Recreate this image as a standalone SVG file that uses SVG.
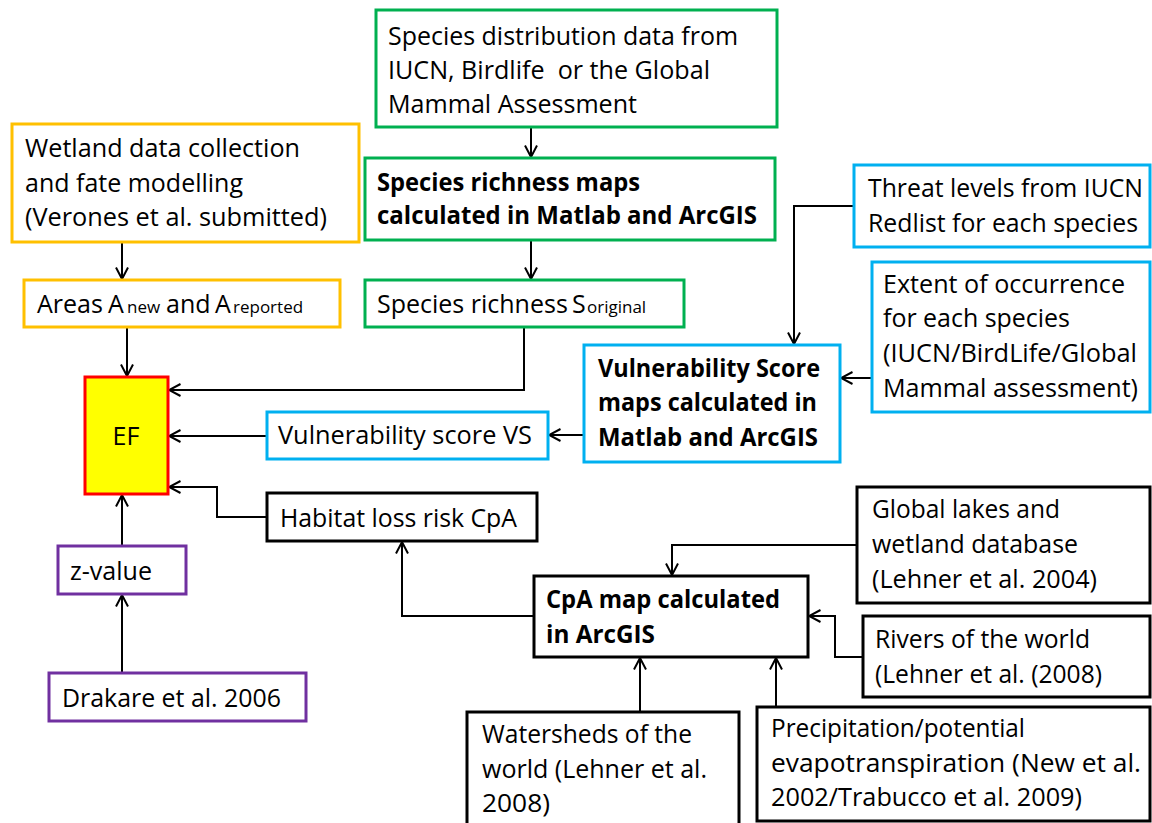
<svg xmlns="http://www.w3.org/2000/svg" width="1152" height="823" viewBox="0 0 1152 823">
<style>
.t{font-family:"Open Sans","Noto Sans","DejaVu Sans",sans-serif;font-size:25px;fill:#000}
.b{font-weight:700}
.sm{font-size:17px}
.box{fill:#fff;stroke-width:3}
.g{stroke:#00B050}.o{stroke:#FFC000}.bl{stroke:#00B0F0}.p{stroke:#7030A0}.k{stroke:#000}
.c{fill:none;stroke:#000;stroke-width:2;marker-end:url(#ah)}
</style>
<defs>
<marker id="ah" viewBox="0 0 14 14" refX="12.5" refY="7" markerWidth="14" markerHeight="14" markerUnits="userSpaceOnUse" orient="auto">
<path d="M1,1 L12.5,7 L1,13" fill="none" stroke="#000" stroke-width="2"/>
</marker>
</defs>
<rect width="1152" height="823" fill="#fff"/>

<g id="connectors">
<path class="c" d="M531,127 V157"/>
<path class="c" d="M531,240 V279"/>
<path class="c" d="M122,242 V279"/>
<path class="c" d="M127,327 V376"/>
<path class="c" d="M524,327 V390 H169"/>
<path class="c" d="M267,436 H169"/>
<path class="c" d="M584,435 H549"/>
<path class="c" d="M267,517 H217 V487 H169"/>
<path class="c" d="M122,546 V495"/>
<path class="c" d="M122,673 V595"/>
<path class="c" d="M854,206 H794 V344"/>
<path class="c" d="M872,378 H841"/>
<path class="c" d="M534,616 H402 V542"/>
<path class="c" d="M857,545 H672 V575"/>
<path class="c" d="M863,657 H835 V616 H809"/>
<path class="c" d="M640,712 V658"/>
<path class="c" d="M776,707 V658"/>
</g>

<g id="n-species-data">
<rect class="box g" x="376" y="10" width="401" height="117"/>
<text class="t" x="388" y="45" textLength="350" lengthAdjust="spacingAndGlyphs">Species distribution data from</text>
<text class="t" x="388" y="79" textLength="322" lengthAdjust="spacingAndGlyphs" xml:space="preserve">IUCN, Birdlife  or the Global</text>
<text class="t" x="388" y="113" textLength="249" lengthAdjust="spacingAndGlyphs">Mammal Assessment</text>
</g>

<g id="n-wetland">
<rect class="box o" x="12" y="124" width="347" height="118"/>
<text class="t" x="25" y="157" textLength="275" lengthAdjust="spacingAndGlyphs">Wetland data collection</text>
<text class="t" x="25" y="192" textLength="218" lengthAdjust="spacingAndGlyphs">and fate modelling</text>
<text class="t" x="25" y="226" textLength="302" lengthAdjust="spacingAndGlyphs">(Verones et al. submitted)</text>
</g>

<g id="n-richness-maps">
<rect class="box g" x="365" y="158" width="410" height="82"/>
<text class="t b" x="377" y="191" textLength="263" lengthAdjust="spacingAndGlyphs">Species richness maps</text>
<text class="t b" x="377" y="224" textLength="380" lengthAdjust="spacingAndGlyphs">calculated in Matlab and ArcGIS</text>
</g>

<g id="n-areas">
<rect class="box o" x="24" y="280" width="316" height="47"/>
<text class="t" y="313"><tspan x="37">Areas </tspan><tspan x="108">A</tspan><tspan x="127" class="sm">new</tspan> <tspan x="166">and </tspan><tspan x="215">A</tspan><tspan x="233" class="sm">reported</tspan></text>
</g>

<g id="n-soriginal">
<rect class="box g" x="365" y="280" width="319" height="47"/>
<text class="t" y="313"><tspan x="377">Species richness </tspan><tspan x="572">S</tspan><tspan x="587" class="sm">original</tspan></text>
</g>

<g id="n-ef">
<rect x="85" y="377" width="83" height="117" fill="#FFFF00" stroke="#FF0000" stroke-width="3"/>
<text class="t" x="126" y="445" text-anchor="middle">EF</text>
</g>

<g id="n-vs">
<rect class="box bl" x="267" y="412" width="281" height="47"/>
<text class="t" x="278" y="444" textLength="254" lengthAdjust="spacingAndGlyphs">Vulnerability score VS</text>
</g>

<g id="n-habitat">
<rect class="box k" x="267" y="493" width="270" height="48"/>
<text class="t" x="280" y="527" textLength="237" lengthAdjust="spacingAndGlyphs">Habitat loss risk CpA</text>
</g>

<g id="n-zvalue">
<rect class="box p" x="58" y="546" width="128" height="48"/>
<text class="t" x="70" y="580" textLength="82" lengthAdjust="spacingAndGlyphs">z-value</text>
</g>

<g id="n-drakare">
<rect class="box p" x="49" y="673" width="257" height="48"/>
<text class="t" x="62" y="707" textLength="219" lengthAdjust="spacingAndGlyphs">Drakare et al. 2006</text>
</g>

<g id="n-vs-maps">
<rect class="box bl" x="584" y="345" width="256" height="117"/>
<text class="t b" x="598" y="377" textLength="222" lengthAdjust="spacingAndGlyphs">Vulnerability Score</text>
<text class="t b" x="598" y="411" textLength="219" lengthAdjust="spacingAndGlyphs">maps calculated in</text>
<text class="t b" x="598" y="446" textLength="220" lengthAdjust="spacingAndGlyphs">Matlab and ArcGIS</text>
</g>

<g id="n-threat">
<rect class="box bl" x="854" y="165" width="296" height="82"/>
<text class="t" x="868" y="197" textLength="275" lengthAdjust="spacingAndGlyphs">Threat levels from IUCN</text>
<text class="t" x="868" y="232" textLength="270" lengthAdjust="spacingAndGlyphs">Redlist for each species</text>
</g>

<g id="n-extent">
<rect class="box bl" x="872" y="262" width="278" height="150"/>
<text class="t" x="883" y="293" textLength="242" lengthAdjust="spacingAndGlyphs">Extent of occurrence</text>
<text class="t" x="883" y="327" textLength="187" lengthAdjust="spacingAndGlyphs">for each species</text>
<text class="t" x="883" y="362" textLength="254" lengthAdjust="spacingAndGlyphs">(IUCN/BirdLife/Global</text>
<text class="t" x="883" y="397" textLength="255" lengthAdjust="spacingAndGlyphs">Mammal assessment)</text>
</g>

<g id="n-cpa-map">
<rect class="box k" x="534" y="576" width="274" height="81"/>
<text class="t b" x="546" y="608" textLength="234" lengthAdjust="spacingAndGlyphs">CpA map calculated</text>
<text class="t b" x="546" y="643" textLength="109" lengthAdjust="spacingAndGlyphs">in ArcGIS</text>
</g>

<g id="n-global-lakes">
<rect class="box k" x="857" y="487" width="293" height="116"/>
<text class="t" x="872" y="518" textLength="188" lengthAdjust="spacingAndGlyphs">Global lakes and</text>
<text class="t" x="872" y="553" textLength="206" lengthAdjust="spacingAndGlyphs">wetland database</text>
<text class="t" x="872" y="588" textLength="225" lengthAdjust="spacingAndGlyphs">(Lehner et al. 2004)</text>
</g>

<g id="n-rivers">
<rect class="box k" x="863" y="616" width="287" height="81"/>
<text class="t" x="875" y="648" textLength="215" lengthAdjust="spacingAndGlyphs">Rivers of the world</text>
<text class="t" x="875" y="683" textLength="227" lengthAdjust="spacingAndGlyphs">(Lehner et al. (2008)</text>
</g>

<g id="n-watersheds">
<rect class="box k" x="467" y="712" width="272" height="118"/>
<text class="t" x="482" y="743" textLength="210" lengthAdjust="spacingAndGlyphs">Watersheds of the</text>
<text class="t" x="482" y="778" textLength="225" lengthAdjust="spacingAndGlyphs">world (Lehner et al.</text>
<text class="t" x="482" y="812" textLength="68" lengthAdjust="spacingAndGlyphs">2008)</text>
</g>

<g id="n-precip">
<rect class="box k" x="757" y="707" width="393" height="114"/>
<text class="t" x="771" y="737" textLength="254" lengthAdjust="spacingAndGlyphs">Precipitation/potential</text>
<text class="t" x="771" y="772" textLength="370" lengthAdjust="spacingAndGlyphs">evapotranspiration (New et al.</text>
<text class="t" x="771" y="806" textLength="311" lengthAdjust="spacingAndGlyphs">2002/Trabucco et al. 2009)</text>
</g>
</svg>
